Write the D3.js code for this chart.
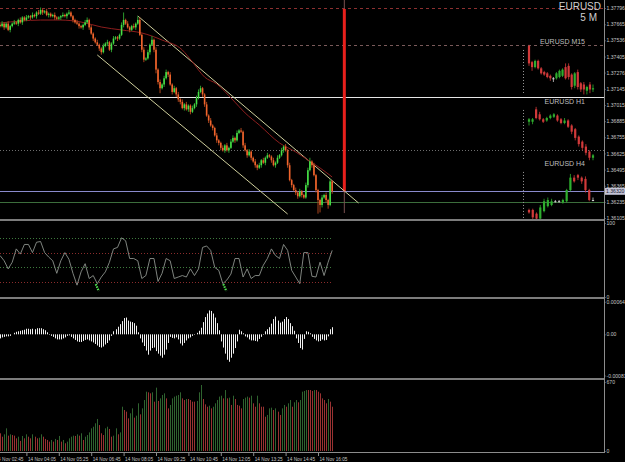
<!DOCTYPE html>
<html>
<head>
<meta charset="utf-8">
<script src="https://cdnjs.cloudflare.com/ajax/libs/d3/7.8.5/d3.min.js"></script>
<style>
body { margin: 0; background: #000; }
svg { display: block; font-family: "Liberation Sans", Arial, sans-serif; }
.ax path, .ax line { stroke: #8c8c8c; }
</style>
</head>
<body>
<svg id="chart" width="625" height="462"></svg>
<script>
// ---- data (prices in pips above 1.3600) ----
var firstBar = 3;
var firstOpen = 166;
var closes = [
  165,167,164,167,162,165,167,168,167,170,
  168,172,170,172,173,172,174,173,176,175,
  178,176,177,174,175,173,174,172,171,172,
  173,174,173,175,176,173,170,168,167,165,
  164,166,168,170,164,159,155,152,150,147,
  144,149,151,152,146,151,155,156,155,
  158,166,170,167,164,162,165,164,167,170,
  158,146,138,139,144,150,154,146,130,120,
  115,118,123,128,126,118,112,115,110,106,
  104,99,102,98,101,96,99,102,107,112,
  115,110,102,93,89,85,83,77,73,71,
  67,65,69,65,67,72,75,73,79,81,
  80,69,65,61,64,59,56,53,51,53,
  57,55,59,61,60,57,53,55,59,
  61,65,68,65,53,41,37,33,31,28,
  32,29,27,37,49,56,53,45,33,25,
  21,27,29,25,21,40,32
];
var wickUp = [
  1,2,1,1,2,1,1,2,1,1, 2,1,1,2,1,1,2,1,1,2, 2,1,1,2,1,1,1,2,1,1,
  1,2,1,1,2,1,1,1,2,1, 1,1,2,2,1,2,1,1,2,1, 1,2,1,2,1,1,2,1,1,
  1,2,6,1,2,1,1,2,1,3, 2,1,2,1,2,1,3,1,2,1, 2,1,2,2,1,2,1,2,1,2,
  1,2,1,2,1,1,2,1,2,2, 2,1,1,2,1,2,1,1,2,1, 1,2,1,2,1,2,2,1,2,1,
  2,1,2,1,2,1,1,2,1,2, 1,2,1,2,1,1,2,1,2, 1,2,1,2,1,2,1,1,2,1,
  2,1,1,2,2,3,1,2,1,1, 1,2,1,2,1,2,1
];
var wickDn = [
  1,1,2,1,1,2,1,1,1,2, 1,2,1,1,1,2,1,1,2,1, 1,2,1,1,2,1,1,2,1,1,
  2,1,1,2,1,1,2,1,1,2, 1,2,1,1,2,1,2,1,1,2, 2,1,1,2,1,2,1,1,2,
  1,1,2,1,1,2,1,1,2,1, 1,2,2,1,1,2,1,2,3,2, 4,1,2,1,2,1,2,1,2,2,
  2,1,2,1,2,2,1,1,2,1, 1,2,2,1,2,1,2,1,2,2, 2,1,2,1,2,1,1,2,1,1,
  1,2,1,2,1,2,1,2,2,1, 2,1,2,1,1,2,1,2,1, 1,1,2,1,2,1,2,1,2,2,
  1,2,1,1,2,1,2,1,2,11, 6,2,1,2,3,1,2
];
// moving average, sampled bars and values (pips)
var maBars = [3,13,23,33,43,53,63,73,83,93,98,104,110,118,124,131,141,149,155,161,167];
var maVals = [167.5,169.1,169.9,169.9,168.3,164.3,161.9,159.5,153.8,145.8,136.1,124.0,118.4,105.5,95.1,85.4,70.9,63.7,57.2,50.8,43.5];

// channel trendlines [bar, price]
var channelUpper = [[71, 1.37732], [180, 1.36226]];
var channelLower = [[51, 1.37418], [145, 1.36137]];

// horizontal price levels
var levelPrices = [1.37796, 1.37498, 1.37077, 1.36653, 1.36320, 1.36232];
var levelColors = ["#8c3030", "#7a5a5a", "#e6e6e6", "#6e6e6e", "#8a8acc", "#3c6e3c"];
var levelDash = ["3,3", "3,3", null, "1,2", null, null];

var markerBar = 173;
var markerTop = 1.37796, markerBottom = 1.36320, markerTail = 1.36145;
var bidPrice = 1.36320;

// multi-timeframe mini charts (pips): open, close, high, low
var m15Open  = [149,136,132,137,131,128,127,125,123,123,124,125,132,133,126,117,128,119,118,113,118,114];
var m15Close = [135,132,137,131,127,126,124,123,123,127,129,130,123,124,116,127,116,114,114,116,114,115];
var m15High  = [150,137,138,138,132,129,128,126,124,128,130,131,135,135,127,128,130,120,120,117,120,118];
var m15Low   = [133,129,131,130,126,125,123,121,120,122,123,124,122,122,114,115,114,112,110,110,111,112];
var h1Open  = [88,88,98,94,90,89,91,92,93,90,87,89,85,82,76,72,68,64,59];
var h1Close = [90,90,91,90,88,91,93,94,89,87,89,84,80,75,70,67,63,59,61];
var h1High  = [91,91,100,96,91,92,94,95,94,91,91,90,86,83,77,73,70,65,62];
var h1Low   = [85,86,90,89,87,88,90,91,88,86,86,83,78,73,68,65,61,57,57];
var h4Open  = [17,17,14,10,16,20,21,24,24,23,24,33,43,45,43,42,33,25];
var h4Close = [15,11,10,19,24,25,24,24,24,25,33,43,40,43,40,33,25,25];
var h4High  = [18,18,15,21,26,27,26,25,25,26,34,46,45,46,44,44,34,27];
var h4Low   = [14,9,6,5,15,19,20,23,23,22,23,32,39,41,38,31,24,24];
var miniNames = ["EURUSD M15", "EURUSD H1", "EURUSD H4"];
var miniSepTop = [145.8, 97.5, 47.6];
var miniSepBottom = [111.2, 57.2, 9.7];

// stochastic, one value every 2 bars from bar 3
var stochStep = 2;
var stochVals = [
  56,49,38,47,65,58,71,71,60,74,
  75,60,54,49,32,49,60,51,32,16,
  34,45,25,29,18,27,34,47,65,67,
  80,76,52,52,49,25,29,52,52,21,
  32,52,49,25,27,29,27,38,29,38,
  67,69,63,40,36,18,23,31,52,52,
  27,38,25,29,29,43,52,65,56,52,
  71,63,36,27,18,60,60,28,27,47,
  29,47,63
];
var stochLevels = [80, 60, 40, 20];
var stochSignalBars = [51, 114];
var stochSignalVals = [12, 12];

// MACD histogram, units of 0.00001
var macdVals = [
  -8,-6,-5,-4,-4,-3,0,3,5,6, 7,8,9,11,11,10,11,10,12,12,
  12,10,8,4,-1,-3,-5,-8,-10,-10, -10,-8,-6,-3,-2,-5,-8,-11,-14,-15,
  -15,-13,-11,-10,-12,-14,-16,-19,-22,-25, -26,-24,-20,-17,-12,-3,6,10,15,20,
  26,32,33,27,25,24,22,17,4,-8, -16,-23,-32,-40,-32,-27,-26,-33,-38,-42,
  -46,-40,-30,-17,-5,-7,-8,-6,-10,-18, -22,-17,-12,-8,-6,-3,-1,3,7,13,
  24,34,41,47,46,41,33,22,8,-14, -26,-38,-50,-54,-46,-38,-27,-14,9,6,
  2,-4,-6,-10,-12,-12,-13,-14,-9,-5, -1,6,10,14,21,30,35,27,23,25,
  30,34,30,22,16,7,-8,-17,-27,-30, -9,6,5,2,-5,-9,-12,-14,-13,-10,
  -12,-11,-4,10,14
];

// tick volume
var volVals = [
  172,139,162,220,149,162,155,149,123,139, 98,146,123,162,139,123,162,139,123,129,
  162,139,117,107,91,107,91,117,107,146, 91,107,75,91,123,139,149,146,162,149,
  172,107,139,155,181,220,236,269,311,252, 172,155,220,236,214,139,149,220,162,181,
  430,398,382,317,366,414,324,343,463,356, 414,495,576,570,560,570,479,615,486,511,
  544,560,511,414,447,511,528,537,544,570, 511,495,505,505,495,479,479,486,570,641,
  505,453,430,440,414,430,463,495,528,537, 511,592,511,518,447,537,505,447,440,414,
  505,518,528,518,537,463,430,537,463,430, 430,333,350,414,421,398,414,382,350,414,
  447,430,463,495,430,473,495,473,495,576, 583,592,592,592,583,592,592,576,560,511,
  495,463,505,479,430
];

// axis labels
var priceTicks = [1.37796,1.37665,1.37536,1.37405,1.37276,1.37145,1.37015,1.36885,1.36755,1.36625,1.36495,1.36365,1.36235,1.36105];
var timeBars = [0,16,32,48,64,80,96,112,128,144,160];
var timeLabels = ["14 Nov 02:45","14 Nov 04:05","14 Nov 05:25","14 Nov 06:45","14 Nov 08:05","14 Nov 09:25",
                  "14 Nov 10:45","14 Nov 12:05","14 Nov 13:25","14 Nov 14:45","14 Nov 16:05"];
var stochTicks = [100, 0];
var macdTicks = [0.00064, 0, -0.00081];
var macdTickLabels = ["0.00064", "0.00", "-0.00081"];
var volTicks = [670, 0];

// ---- layout ----
var W = 625, H = 462, axisX = 604;
var svg = d3.select("#chart");
svg.append("rect").attr("width", W).attr("height", H).attr("fill", "#000");

var x = d3.scaleLinear().domain([0, 160]).range([-6, 318]);
var y = d3.scaleLinear().domain([1.36105, 1.37796]).range([218, 8]);
function yp(p) { return y(1.36 + p / 10000); }

var defs = svg.append("defs");
function clip(id, y0, y1) {
  defs.append("clipPath").attr("id", id).append("rect")
    .attr("x", 0).attr("y", y0).attr("width", axisX).attr("height", y1 - y0);
  return "url(#" + id + ")";
}

// ---- main panel ----
var main = svg.append("g").attr("clip-path", clip("cMain", 0, 219));

main.selectAll(".lvl").data(levelPrices).enter().append("line")
  .attr("x1", 0).attr("x2", axisX)
  .attr("y1", function(d) { return Math.round(y(d)) + 0.5; })
  .attr("y2", function(d) { return Math.round(y(d)) + 0.5; })
  .attr("stroke", function(d, i) { return levelColors[i]; })
  .attr("stroke-dasharray", function(d, i) { return levelDash[i]; })
  .attr("stroke-width", 1);

// marker line
main.append("line")
  .attr("x1", x(markerBar)).attr("x2", x(markerBar))
  .attr("y1", 0).attr("y2", y(markerTail))
  .attr("stroke", "#7a5050").attr("stroke-width", 1);
main.append("line")
  .attr("x1", x(markerBar)).attr("x2", x(markerBar))
  .attr("y1", y(markerTop) + 1).attr("y2", y(markerBottom))
  .attr("stroke", "#e8201c").attr("stroke-width", 3);

// channel
[channelUpper, channelLower].forEach(function(c) {
  main.append("line")
    .attr("x1", x(c[0][0])).attr("y1", y(c[0][1]))
    .attr("x2", x(c[1][0])).attr("y2", y(c[1][1]))
    .attr("stroke", "#cfcf9c").attr("stroke-width", 1);
});

// moving average
var maLine = d3.line()
  .x(function(d, i) { return x(maBars[i]); })
  .y(function(d) { return yp(d); })
  .curve(d3.curveMonotoneX);
main.append("path").datum(maVals).attr("d", maLine)
  .attr("fill", "none").attr("stroke", "#8e1e1e").attr("stroke-width", 1);

// candles
var candles = closes.map(function(c, i) {
  var o = i === 0 ? firstOpen : closes[i - 1];
  return { bar: firstBar + i, o: o, c: c,
           h: Math.max(o, c) + wickUp[i], l: Math.min(o, c) - wickDn[i] };
});
main.selectAll(".wick").data(candles).enter().append("line")
  .attr("x1", function(d) { return x(d.bar); })
  .attr("x2", function(d) { return x(d.bar); })
  .attr("y1", function(d) { return yp(d.h); })
  .attr("y2", function(d) { return yp(d.l); })
  .attr("stroke", function(d) { return d.c >= d.o ? "#2c9a2c" : "#a8441c"; })
  .attr("stroke-width", 1);
main.selectAll(".body").data(candles).enter().append("rect")
  .attr("x", function(d) { return x(d.bar) - 0.8; })
  .attr("width", 1.6)
  .attr("y", function(d) { return yp(Math.max(d.o, d.c)); })
  .attr("height", function(d) { return Math.max(1, Math.abs(yp(d.o) - yp(d.c))); })
  .attr("fill", function(d) { return d.c >= d.o ? "#46e046" : "#f0642c"; });

// mini charts
var minis = [
  [m15Open, m15Close, m15High, m15Low],
  [h1Open, h1Close, h1High, h1Low],
  [h4Open, h4Close, h4High, h4Low]
];
minis.forEach(function(m, k) {
  var n = m[0].length;
  var mx = d3.scaleLinear().domain([0, n - 1]).range([529, 593]);
  var g = main.append("g");
  g.append("line").attr("x1", 523.5).attr("x2", 523.5)
    .attr("y1", yp(miniSepTop[k])).attr("y2", yp(miniSepBottom[k]))
    .attr("stroke", "#9a9a9a").attr("stroke-dasharray", "1,2");
  g.append("text").attr("x", 585).attr("y", yp(miniSepTop[k]) - 6)
    .attr("text-anchor", "end").attr("fill", "#bdbdbd").attr("font-size", 7)
    .text(miniNames[k]);
  var rows = d3.range(n).map(function(i) {
    return { i: i, o: m[0][i], c: m[1][i], h: m[2][i], l: m[3][i] };
  });
  function col(d) { return d.c > d.o ? "#2fae2f" : (d.c < d.o ? "#d23a3a" : "#d0d0d0"); }
  g.selectAll(".mw").data(rows).enter().append("line")
    .attr("x1", function(d) { return mx(d.i); }).attr("x2", function(d) { return mx(d.i); })
    .attr("y1", function(d) { return yp(d.h); }).attr("y2", function(d) { return yp(d.l); })
    .attr("stroke", col).attr("stroke-width", 0.8);
  g.selectAll(".mb").data(rows).enter().append("rect")
    .attr("x", function(d) { return mx(d.i) - 1.1; }).attr("width", 2.2)
    .attr("y", function(d) { return yp(Math.max(d.o, d.c)); })
    .attr("height", function(d) { return Math.max(1, Math.abs(yp(d.o) - yp(d.c))); })
    .attr("fill", col);
});

svg.append("text").attr("x", 601).attr("y", 10).attr("text-anchor", "end")
  .attr("fill", "#cfcfcf").attr("font-size", 10).text("EURUSD");
svg.append("text").attr("x", 597).attr("y", 21).attr("text-anchor", "end")
  .attr("fill", "#cfcfcf").attr("font-size", 10).text("5 M");

// ---- stochastic panel ----
var ys = d3.scaleLinear().domain([0, 100]).range([297, 223]);
var st = svg.append("g").attr("clip-path", clip("cSt", 221, 297));
st.selectAll(".sl").data(stochLevels).enter().append("line")
  .attr("x1", 0).attr("x2", x(firstBar + (stochVals.length - 1) * stochStep))
  .attr("y1", function(d) { return Math.round(ys(d)) + 0.5; })
  .attr("y2", function(d) { return Math.round(ys(d)) + 0.5; })
  .attr("stroke", function(d, i) { return i % 2 === 0 ? "#3e7a3e" : "#8a2c2c"; })
  .attr("stroke-dasharray", "1,2");
st.append("path").datum(stochVals)
  .attr("d", d3.line()
    .x(function(d, i) { return x(firstBar + i * stochStep); })
    .y(function(d) { return ys(d); }))
  .attr("fill", "none").attr("stroke", "#8c928c").attr("stroke-width", 0.9);
st.selectAll(".sig").data(stochSignalBars).enter().append("line")
  .attr("x1", function(d) { return x(d) - 1.5; })
  .attr("x2", function(d) { return x(d) + 1.5; })
  .attr("y1", function(d, i) { return ys(stochSignalVals[i]) - 4; })
  .attr("y2", function(d, i) { return ys(stochSignalVals[i]) + 3; })
  .attr("stroke", "#4ee04e").attr("stroke-width", 2.2).attr("stroke-dasharray", "1.5,1");

// ---- MACD panel ----
var ym = d3.scaleLinear().domain([-0.00081, 0.00064]).range([375.5, 301.8]);
var mg = svg.append("g").attr("clip-path", clip("cM", 299, 378));
mg.selectAll(".mh").data(macdVals).enter().append("line")
  .attr("x1", function(d, i) { return Math.round(x(firstBar + i)) + 0.5; })
  .attr("x2", function(d, i) { return Math.round(x(firstBar + i)) + 0.5; })
  .attr("y1", ym(0))
  .attr("y2", function(d) { return ym(d / 100000); })
  .attr("stroke", "#f2f2f2").attr("stroke-width", 1);

// ---- volume panel ----
var yv = d3.scaleLinear().domain([0, 670]).range([451, 382]);
var vg = svg.append("g").attr("clip-path", clip("cV", 380, 451));
vg.selectAll(".vb").data(volVals).enter().append("line")
  .attr("x1", function(d, i) { return Math.round(x(firstBar + i)) + 0.5; })
  .attr("x2", function(d, i) { return Math.round(x(firstBar + i)) + 0.5; })
  .attr("y1", yv(0))
  .attr("y2", function(d) { return yv(d); })
  .attr("stroke", function(d, i) { return i > 0 && d > volVals[i - 1] ? "#2f632f" : "#993232"; })
  .attr("stroke-width", 1);

// ---- separators ----
[220, 298, 379].forEach(function(sy) {
  svg.append("rect").attr("x", 0).attr("y", sy - 1).attr("width", axisX + 1).attr("height", 2)
    .attr("fill", "#7c7c7c");
});

// ---- axes ----
function styleAxis(g) {
  g.attr("class", "ax");
  g.selectAll("text").attr("font-size", 5.1).attr("fill", "#c4c4c4");
}
function rightAxis(scale, ticks, fmt) {
  var a = d3.axisRight(scale).tickValues(ticks).tickSize(1.5).tickPadding(1);
  if (fmt) a.tickFormat(fmt);
  svg.append("g").attr("transform", "translate(" + axisX + ",0)")
    .call(a).call(styleAxis).select(".domain").remove();
}
rightAxis(y, priceTicks, d3.format(".5f"));
rightAxis(ys, stochTicks);
rightAxis(ym, macdTicks, function(d, i) { return macdTickLabels[i]; });
rightAxis(yv, volTicks);

// bid label
svg.append("rect").attr("x", axisX + 1).attr("y", y(bidPrice) - 3.5)
  .attr("width", 20).attr("height", 7).attr("fill", "#c4c4d6");
svg.append("text").attr("x", axisX + 2).attr("y", y(bidPrice) + 2)
  .attr("font-size", 5.1).attr("fill", "#202030").text(d3.format(".5f")(bidPrice));

// right and bottom frame
svg.append("line").attr("x1", axisX + 0.5).attr("x2", axisX + 0.5).attr("y1", 0).attr("y2", 453)
  .attr("stroke", "#8c8c8c");
svg.append("line").attr("x1", 0).attr("x2", axisX + 1).attr("y1", 452.5).attr("y2", 452.5)
  .attr("stroke", "#8c8c8c");

// time axis
var tx = svg.append("g").attr("transform", "translate(0,453)")
  .call(d3.axisBottom(x).tickValues(timeBars).tickSize(3).tickPadding(1)
    .tickFormat(function(d, i) { return timeLabels[i]; }));
tx.call(styleAxis).select(".domain").remove();
tx.selectAll("text").attr("text-anchor", "start").attr("dx", 1)
  .attr("textLength", 28).attr("lengthAdjust", "spacingAndGlyphs");
</script>
</body>
</html>
